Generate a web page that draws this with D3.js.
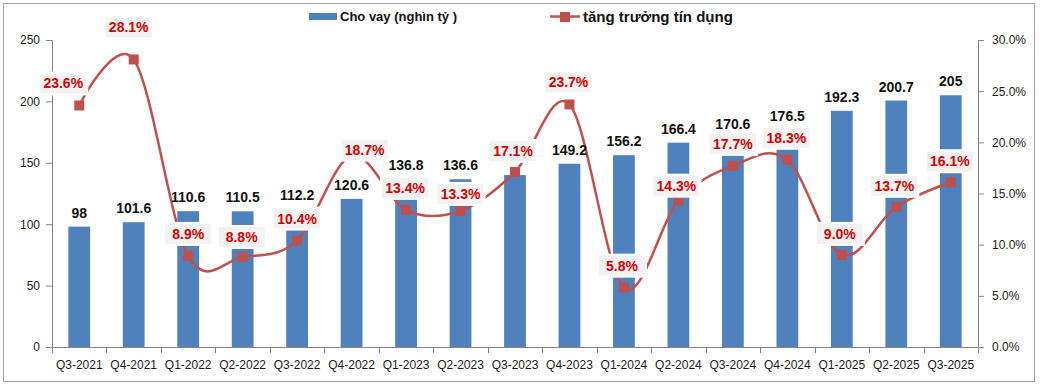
<!DOCTYPE html>
<html><head><meta charset="utf-8">
<script src="https://cdn.jsdelivr.net/npm/d3@7/dist/d3.min.js"></script>
<style>
body{margin:0;background:#fff;}
svg{display:block;font-family:"Liberation Sans",Arial,sans-serif;}
</style></head>
<body><svg id="c" width="1040" height="388"></svg>
<script>
const categories = ["Q3-2021","Q4-2021","Q1-2022","Q2-2022","Q3-2022","Q4-2022","Q1-2023","Q2-2023","Q3-2023","Q4-2023","Q1-2024","Q2-2024","Q3-2024","Q4-2024","Q1-2025","Q2-2025","Q3-2025"];
const loans = [98,101.6,110.6,110.5,112.2,120.6,136.8,136.6,140,149.2,156.2,166.4,170.6,176.5,192.3,200.7,205];
const loanLabels = ["98","101.6","110.6","110.5","112.2","120.6","136.8","136.6","","149.2","156.2","166.4","170.6","176.5","192.3","200.7","205"];
const growth = [23.6,28.1,8.9,8.8,10.4,18.7,13.4,13.3,17.1,23.7,5.8,14.3,17.7,18.3,9.0,13.7,16.1];
const leftTicks = [0,50,100,150,200,250];
const rightTicks = [0,5,10,15,20,25,30];
// label placement nudges (dx, dy) relative to each point
const labelNudge = [[-16,-22],[-5,-32],[0,-22],[-1,-20],[0,-22],[13,-6],[-1,-22],[0,-17],[-2,-21],[-1,-22],[-2,-22],[-2,-15],[0,-22],[-1,-22],[-2,-21],[-2,-21],[-1,-21]];

const svg = d3.select("#c");
const L = 52, R = 978, T = 40, B = 347;
const x = d3.scaleBand().domain(categories).range([L,R]).paddingInner(0.6).paddingOuter(0.3);
const yL = d3.scaleLinear().domain([0,250]).range([B,T]);
const yR = d3.scaleLinear().domain([0,30]).range([B,T]);
const cx = c => x(c) + x.bandwidth()/2;

// border
svg.append("rect").attr("x",3.5).attr("y",3.5).attr("width",1031).attr("height",378)
  .attr("fill","none").attr("stroke","#a6a6a6").attr("stroke-width",1);

const axisColor = "#868686";
// left axis
const gl = svg.append("g").attr("transform",`translate(${L},0)`)
  .call(d3.axisLeft(yL).tickValues(leftTicks).tickSize(6).tickPadding(6));
// right axis
const gr = svg.append("g").attr("transform",`translate(${R},0)`)
  .call(d3.axisRight(yR).tickValues(rightTicks).tickSize(6).tickPadding(8).tickFormat(d=>d.toFixed(1)+"%"));
[gl,gr].forEach(g=>{
  g.selectAll("path,line").attr("stroke",axisColor);
  g.selectAll("text").attr("fill","#1a1a1a").style("font-size","12px");
});
// x axis
const gx = svg.append("g");
gx.append("line").attr("x1",L).attr("x2",R).attr("y1",B+0.5).attr("y2",B+0.5).attr("stroke",axisColor);
const gap = x.step()-x.bandwidth();
const bounds = categories.map(c=>x(c)-gap/2).concat([x(categories[categories.length-1])+x.bandwidth()+gap/2]);
gx.selectAll("line.t").data(bounds).join("line").attr("class","t")
  .attr("x1",d=>Math.round(d)+0.5).attr("x2",d=>Math.round(d)+0.5).attr("y1",B).attr("y2",B+6).attr("stroke",axisColor);
gx.selectAll("text").data(categories).join("text")
  .attr("x",d=>cx(d)).attr("y",369).attr("text-anchor","middle")
  .attr("fill","#1a1a1a").style("font-size","12px").text(d=>d);

// bars
svg.append("g").selectAll("rect").data(categories).join("rect")
  .attr("x",d=>x(d)).attr("width",x.bandwidth())
  .attr("y",(d,i)=>yL(loans[i])).attr("height",(d,i)=>B-yL(loans[i]))
  .attr("fill","#4f81bd");

// line
const line = d3.line().x((d,i)=>cx(categories[i])).y(d=>yR(d)).curve(d3.curveCardinal.tension(0));
svg.append("path").datum(growth).attr("d",line).attr("fill","none")
  .attr("stroke","#c0504d").attr("stroke-width",2.5);
svg.append("g").selectAll("rect").data(growth).join("rect")
  .attr("x",(d,i)=>cx(categories[i])-5).attr("y",d=>yR(d)-5)
  .attr("width",10).attr("height",10).attr("fill","#c0504d");

// bar labels
svg.append("g").selectAll("text").data(loanLabels).join("text")
  .attr("x",(d,i)=>cx(categories[i])).attr("y",(d,i)=>yL(loans[i])-9)
  .attr("text-anchor","middle").attr("fill","#111").style("font-size","14px").style("font-weight","bold")
  .text(d=>d);

// growth labels with boxes
const gg = svg.append("g").selectAll("g").data(growth).join("g")
  .attr("transform",(d,i)=>`translate(${cx(categories[i])+labelNudge[i][0]},${yR(d)+labelNudge[i][1]})`);
gg.append("rect").attr("x",-24).attr("y",-11).attr("width",48).attr("height",22)
  .attr("fill","#f2f2f2").attr("stroke","#fff").attr("stroke-width",2);
gg.append("text").attr("text-anchor","middle").attr("y",5)
  .attr("fill","#d40000").style("font-size","14px").style("font-weight","bold")
  .text(d=>d.toFixed(1)+"%");

// legend
const lg = svg.append("g");
lg.append("rect").attr("x",309).attr("y",13).attr("width",28).attr("height",7).attr("fill","#4f81bd");
lg.append("text").attr("x",340).attr("y",21).style("font-size","13px").style("font-weight","bold").attr("fill","#111").text("Cho vay (nghìn tỷ )");
lg.append("line").attr("x1",550).attr("x2",580).attr("y1",16.5).attr("y2",16.5).attr("stroke","#c0504d").attr("stroke-width",2.5);
lg.append("rect").attr("x",560).attr("y",12).attr("width",10).attr("height",10).attr("fill","#c0504d");
lg.append("text").attr("x",583).attr("y",22).style("font-size","15px").style("font-weight","bold").attr("fill","#111").text("tăng trưởng tín dụng");
</script></body></html>
